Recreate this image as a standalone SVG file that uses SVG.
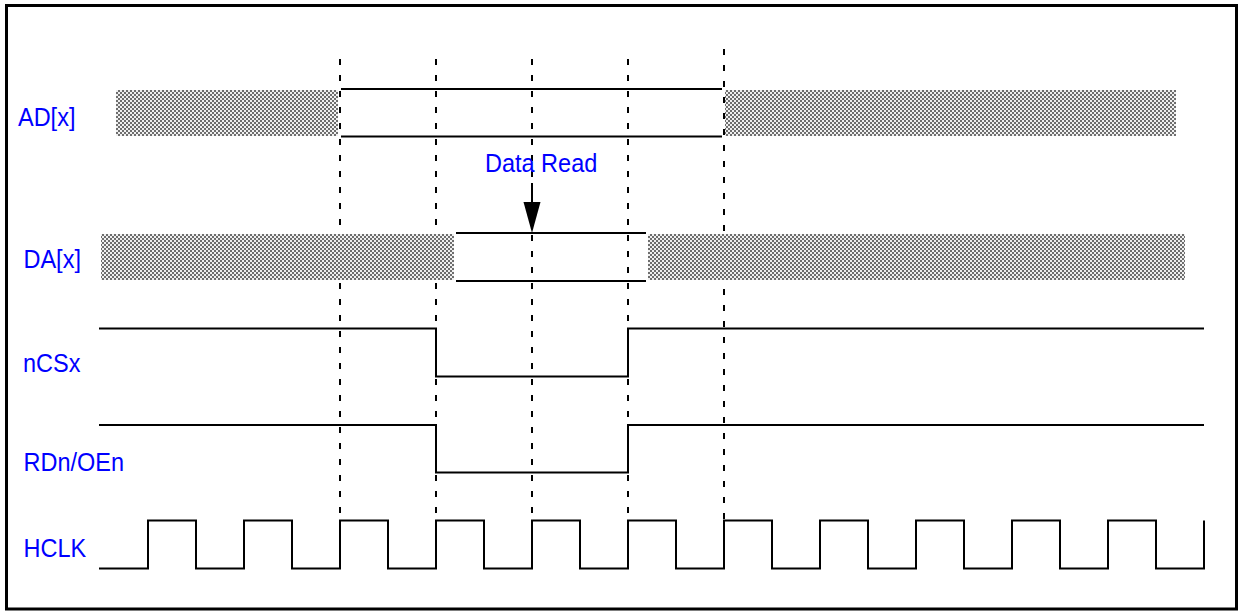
<svg xmlns="http://www.w3.org/2000/svg" width="1240" height="612" viewBox="0 0 1240 612">
  <defs>
    <pattern id="hatch" x="0" y="0" width="4" height="4" patternUnits="userSpaceOnUse">
      <rect x="0" y="0" width="4" height="4" fill="#f0f0f0"/>
      <rect x="0" y="0" width="2" height="2" fill="#6e6e6e"/>
      <rect x="2" y="2" width="2" height="2" fill="#6e6e6e"/>
    </pattern>
  </defs>
  <style>
    .lbl { font-family: "Liberation Sans", Arial, sans-serif; font-size: 23.5px; fill: #0000ff; }
    .sig { fill: none; stroke: #000; stroke-width: 2; }
    .hat { fill: url(#hatch); stroke: none; }
    .dash { fill: none; stroke: #000; stroke-width: 2; stroke-dasharray: 6 10; }
  </style>
  <rect x="0" y="0" width="1240" height="612" fill="#fff"/>
  <rect id="frame" x="6.5" y="5.5" width="1230" height="603.5" fill="none" stroke="#000" stroke-width="3"/>

  <g id="connectors">
    <line class="dash" x1="340" y1="59" x2="340" y2="521"/>
    <line class="dash" x1="436" y1="59" x2="436" y2="521"/>
    <line class="dash" x1="532" y1="59" x2="532" y2="521"/>
    <line class="dash" x1="628" y1="59" x2="628" y2="521"/>
    <line class="dash" x1="724" y1="49" x2="724" y2="521"/>
  </g>

  <g id="AD">
    <text class="lbl" transform="translate(18,126) scale(1,1.08)">AD[x]</text>
    <rect class="hat" x="116" y="90" width="222" height="46"/>
    <line class="sig" x1="341" y1="89" x2="722" y2="89"/>
    <line class="sig" x1="341" y1="136.5" x2="722" y2="136.5"/>
    <rect class="hat" x="725" y="90" width="451" height="46"/>
  </g>

  <g id="DA">
    <text class="lbl" transform="translate(23.5,268) scale(1,1.08)">DA[x]</text>
    <rect class="hat" x="101" y="234" width="353" height="46"/>
    <line class="sig" x1="456" y1="233" x2="646" y2="233"/>
    <line class="sig" x1="456" y1="281" x2="646" y2="281"/>
    <rect class="hat" x="648" y="234" width="537" height="46"/>
  </g>

  <g id="DataRead">
    <text class="lbl" transform="translate(485,172) scale(1,1.08)">Data Read</text>
    <line x1="532" y1="183" x2="532" y2="204" stroke="#000" stroke-width="2"/>
    <polygon points="523.5,202 540.5,202 532,233" fill="#000"/>
  </g>

  <g id="nCSx">
    <text class="lbl" transform="translate(23,371.5) scale(1,1.08)">nCSx</text>
    <polyline class="sig" points="99,328.5 436,328.5 436,376.5 628,376.5 628,328.5 1204,328.5"/>
  </g>

  <g id="RDn">
    <text class="lbl" transform="translate(23.5,470.5) scale(1,1.08)">RDn/OEn</text>
    <polyline class="sig" points="99,425 436,425 436,472.5 628,472.5 628,425 1204,425"/>
  </g>

  <g id="HCLK">
    <text class="lbl" transform="translate(23.5,556.5) scale(1,1.08)">HCLK</text>
    <polyline class="sig" points="99,568.5 148,568.5 148,520.5 196,520.5 196,568.5 244,568.5 244,520.5 292,520.5 292,568.5 340,568.5 340,520.5 388,520.5 388,568.5 436,568.5 436,520.5 484,520.5 484,568.5 532,568.5 532,520.5 580,520.5 580,568.5 628,568.5 628,520.5 676,520.5 676,568.5 724,568.5 724,520.5 772,520.5 772,568.5 820,568.5 820,520.5 868,520.5 868,568.5 916,568.5 916,520.5 964,520.5 964,568.5 1012,568.5 1012,520.5 1060,520.5 1060,568.5 1108,568.5 1108,520.5 1156,520.5 1156,568.5 1204,568.5 1204,520.5"/>
  </g>
</svg>
